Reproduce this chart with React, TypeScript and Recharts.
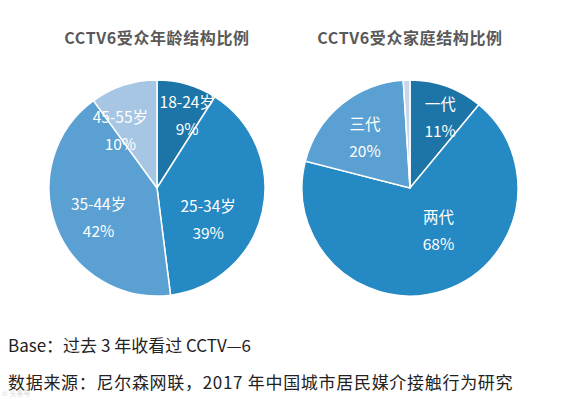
import React from "react";
import { PieChart, Pie, Cell } from "recharts";

const ageNames = ["18-24岁", "25-34岁", "35-44岁", "45-55岁"];
const ageValues = [9, 39, 42, 10];
const ageLabels = ["9%", "39%", "42%", "10%"];

const familyNames = ["一代", "两代", "三代", "其他"];
const familyValues = [11, 68, 20, 1];
const familyLabels = ["11%", "68%", "20%", ""];

const titleAge = "CCTV6受众年龄结构比例";
const titleFamily = "CCTV6受众家庭结构比例";
const noteBase = "Base：过去 3 年收看过 CCTV—6";
const noteSource = "数据来源：尼尔森网联，2017 年中国城市居民媒介接触行为研究";

const ageData = ageNames.map((n, i) => ({ name: n, value: ageValues[i], pct: ageLabels[i] }));
const familyData = familyNames.map((n, i) => ({ name: n, value: familyValues[i], pct: familyLabels[i] }));

const ageColors = ["#1c75a6", "#2589c3", "#5aa0d2", "#a7c6e3"];
const familyColors = ["#1c75a6", "#2589c3", "#5aa0d2", "#c4d8ea"];

// label placement styles (radius fraction, angle shift in degrees)
const ageLabelPos = [
  { f: 0.74, shift: -6 },
  { f: 0.55, shift: -18 },
  { f: 0.6, shift: 4 },
  { f: 0.64, shift: 14 },
];
const familyLabelPos = [
  { f: 0.72, shift: -3 },
  { f: 0.46, shift: 17 },
  { f: 0.64, shift: 1 },
  { f: 0, shift: 0 },
];

const RAD = Math.PI / 180;
const FONT = "'Noto Sans CJK SC', 'Noto Sans', sans-serif";

function makeLabel(pos: { f: number; shift: number }[]) {
  return (props: any) => {
    const { cx, cy, midAngle, outerRadius, index, payload } = props;
    const p = pos[index];
    if (!payload || !payload.pct) return null;
    const a = (midAngle + p.shift) * RAD;
    const r = outerRadius * p.f;
    const x = cx + r * Math.cos(-a);
    const y = cy + r * Math.sin(-a);
    return (
      <g>
        <text x={x} y={y - 13} fill="#ffffff" fontSize={15.5} fontFamily={FONT} textAnchor="middle" dominantBaseline="central">
          {payload.name}
        </text>
        <text x={x} y={y + 14} fill="#ffffff" fontSize={15.5} fontFamily={FONT} textAnchor="middle" dominantBaseline="central">
          {payload.pct}
        </text>
      </g>
    );
  };
}

export default function App() {
  return (
    <div style={{ position: "absolute", left: 0, top: 0, width: 568, height: 397, background: "#ffffff", overflow: "hidden" }}>
      <PieChart width={568} height={310} margin={{ top: 0, right: 0, bottom: 0, left: 0 }} style={{ position: "absolute", left: 0, top: 0 }}>
        <text x={157} y={37} textAnchor="middle" dominantBaseline="central" fontSize={16} letterSpacing={0.6} fontWeight="bold" fill="#595959" fontFamily={FONT}>
          {titleAge}
        </text>
        <text x={410} y={37} textAnchor="middle" dominantBaseline="central" fontSize={16} letterSpacing={0.6} fontWeight="bold" fill="#595959" fontFamily={FONT}>
          {titleFamily}
        </text>
        <Pie
          data={ageData}
          dataKey="value"
          nameKey="name"
          cx={157}
          cy={188}
          outerRadius={108}
          startAngle={90}
          endAngle={-270}
          stroke="#ffffff"
          strokeWidth={1.5}
          isAnimationActive={false}
          labelLine={false}
          label={makeLabel(ageLabelPos)}
        >
          {ageData.map((d, i) => (
            <Cell key={d.name} fill={ageColors[i]} />
          ))}
        </Pie>
        <Pie
          data={familyData}
          dataKey="value"
          nameKey="name"
          cx={410}
          cy={188}
          outerRadius={108}
          startAngle={90}
          endAngle={-270}
          stroke="#ffffff"
          strokeWidth={1.5}
          isAnimationActive={false}
          labelLine={false}
          label={makeLabel(familyLabelPos)}
        >
          {familyData.map((d, i) => (
            <Cell key={d.name} fill={familyColors[i]} />
          ))}
        </Pie>
      </PieChart>
      <div style={{ position: "absolute", left: 8, top: 333, fontSize: 17, fontFamily: FONT, color: "#222222", whiteSpace: "nowrap", lineHeight: "24px" }}>
        {noteBase}
      </div>
      <div style={{ position: "absolute", left: 8, top: 372, fontSize: 17, letterSpacing: 0.7, fontFamily: FONT, color: "#222222", whiteSpace: "nowrap", lineHeight: "20px" }}>
        {noteSource}
      </div>
      <div style={{ position: "absolute", left: 2, top: 389, fontSize: 7, lineHeight: "8px", fontFamily: FONT, color: "#d8d8d8", whiteSpace: "nowrap" }}>
        © 头条号
      </div>
    </div>
  );
}
